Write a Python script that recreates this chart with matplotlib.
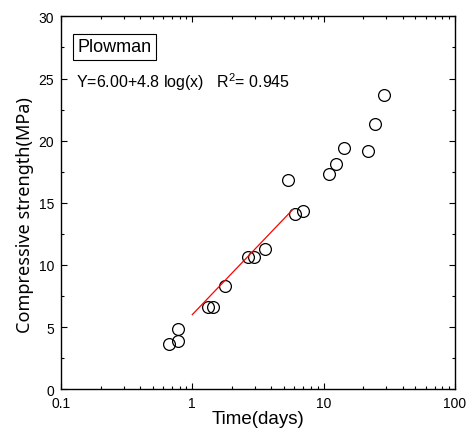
import matplotlib
matplotlib.use("Agg")
import matplotlib.pyplot as plt
from matplotlib.ticker import FixedLocator, FixedFormatter, LogLocator, NullFormatter

# --- Data ---
time_days = [0.67, 0.785, 0.785, 1.32, 1.45, 1.78, 2.66, 2.96, 3.58,
             5.35, 6.09, 7.02, 10.9, 12.4, 14.3, 21.7, 24.7, 28.6]
strength = [3.62, 3.89, 4.83, 6.60, 6.65, 8.34, 10.63, 10.63, 11.27,
            16.80, 14.12, 14.36, 17.33, 18.12, 19.37, 19.16, 21.34, 23.64]

fit_x = [1.0, 5.8]
fit_y = [6.00, 14.44]

x_ticks = [0.1, 1, 10, 100]
x_labels = ["0.1", "1", "10", "100"]
y_ticks = [0, 5, 10, 15, 20, 25, 30]
y_minor = [2.5, 7.5, 12.5, 17.5, 22.5, 27.5]

sans = ["Liberation Sans", "DejaVu Sans"]

# --- Plot ---
fig = plt.figure(figsize=(4.69, 4.35), dpi=100)
ax = fig.add_axes([0.130, 0.103, 0.840, 0.857])

ax.plot(time_days, strength, "o", mfc="none", mec="black", mew=0.9,
        markersize=8.5)
ax.plot(fit_x, fit_y, color="red", lw=0.9)

ax.set_xscale("log")
ax.set_xlim(0.1, 100)
ax.set_ylim(0, 30)

ax.xaxis.set_major_locator(FixedLocator(x_ticks))
ax.xaxis.set_major_formatter(FixedFormatter(x_labels))
ax.xaxis.set_minor_locator(LogLocator(base=10, subs=range(2, 10)))
ax.xaxis.set_minor_formatter(NullFormatter())
ax.set_yticks(y_ticks)
ax.set_yticks(y_minor, minor=True)

ax.tick_params(which="both", direction="in", top=True, right=True,
               width=0.8, labelsize=10, pad=5)
ax.tick_params(which="major", length=4)
ax.tick_params(which="minor", length=2.5)
for lbl in ax.get_xticklabels() + ax.get_yticklabels():
    lbl.set_family(sans)
for s in ax.spines.values():
    s.set_linewidth(1.0)

ax.set_xlabel("Time(days)", family=sans, fontsize=13.5, labelpad=0)
ax.set_ylabel("Compressive strength(MPa)", family="Noto Sans", fontsize=13)
ax.yaxis.set_label_coords(-0.068, 0.469)

ax.text(0.042, 0.918, "Plowman", transform=ax.transAxes, family=sans,
        fontsize=13, va="center", ha="left",
        bbox=dict(boxstyle="square,pad=0.25", fc="white", ec="black", lw=0.8))
ax.text(0.037, 0.826, r"Y=6.00+4.8 log(x)   R$^{\mathregular{2}}$= 0.945",
        transform=ax.transAxes, family=sans, fontsize=11.5,
        va="center", ha="left")

fig.savefig("out.png", dpi=100)
